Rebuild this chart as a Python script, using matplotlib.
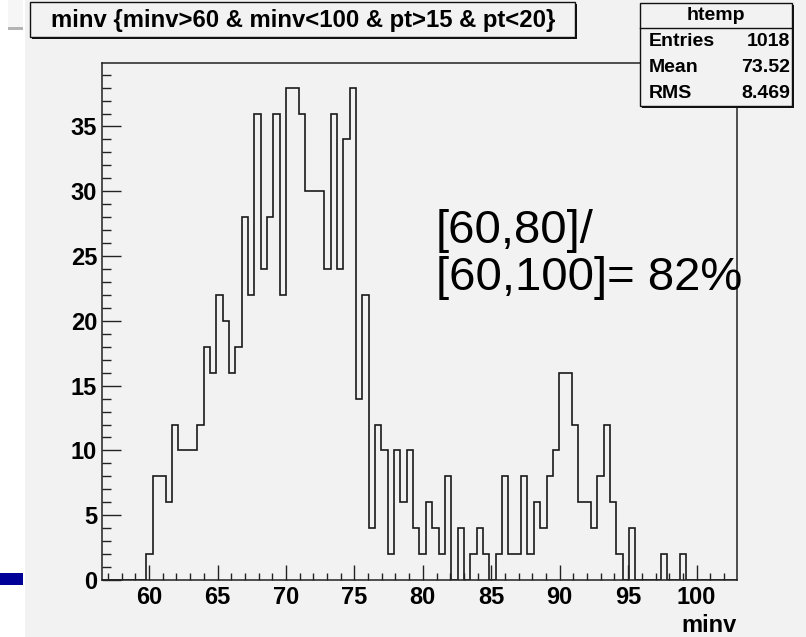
import matplotlib.pyplot as plt
from matplotlib.patches import Rectangle
import numpy as np

# canvas size in pixels
W, H = 806, 637

# htemp: 100 bins of minv, counts
x_min, x_max = 56.56, 102.95
counts = [0, 0, 0, 0, 0, 0, 0, 2, 8, 8,
          6, 12, 10, 10, 10, 12, 18, 16, 22, 20,
          16, 18, 28, 22, 36, 24, 28, 36, 22, 38,
          38, 36, 30, 30, 30, 24, 36, 24, 34, 38,
          14, 22, 4, 12, 10, 2, 10, 6, 10, 4,
          2, 6, 4, 2, 8, 0, 4, 0, 2, 4,
          2, 0, 2, 8, 2, 2, 8, 2, 6, 4,
          8, 10, 16, 16, 12, 6, 6, 4, 8, 12,
          6, 2, 0, 4, 0, 0, 0, 0, 2, 0,
          0, 2, 0, 0, 0, 0, 0, 0, 0, 0]

x_ticks = [60, 65, 70, 75, 80, 85, 90, 95, 100]
y_ticks = [0, 5, 10, 15, 20, 25, 30, 35]

title = 'minv {minv>60 & minv<100 & pt>15 & pt<20}'
stat_names = ['Entries', 'Mean', 'RMS']
stat_values = ['1018', '73.52', '8.469']
note_lines = ['[60,80]/', '[60,100]= 82%']

GRAY = '#f2f2f2'
plt.rcParams['font.family'] = ['Liberation Sans Narrow', 'Liberation Sans', 'DejaVu Sans']


def fx(px):
    return px / W


def fy(py):
    return 1 - py / H


def box(x0, y0, x1, y1, z, **kw):
    # rectangle given in pixel corners (top-left origin)
    r = Rectangle((fx(x0), fy(y1)), fx(x1 - x0), (y1 - y0) / H,
                  transform=fig.transFigure, zorder=z, **kw)
    fig.patches.append(r)


fig = plt.figure(figsize=(W / 100, H / 100), dpi=100, facecolor='white')

# ROOT canvas background and slide decorations on the left
box(25, 0, W, H, -2, facecolor=GRAY, edgecolor='none')
box(8, 0, 23, 27, -2, facecolor='#f6f6f6', edgecolor='none')
box(8, 27, 23, 30, -2, facecolor='#b4b4b4', edgecolor='none')
box(0, 573, 23, 585, -2, facecolor='#000099', edgecolor='none')

# frame
ax = fig.add_axes([fx(102), fy(580), fx(635), 517 / H])
ax.set_facecolor(GRAY)
edges = np.linspace(x_min, x_max, len(counts) + 1)
ax.stairs(counts, edges, color='#1a1a1a', lw=1.2)
ax.set_xlim(x_min, x_max)
ax.set_ylim(0, 39.9)

ax.set_xticks(x_ticks)
ax.set_xticks(np.arange(57, 103), minor=True)
ax.set_yticks(y_ticks)
ax.set_yticks(np.arange(0, 40), minor=True)
ax.tick_params(axis='both', which='both', direction='in', color='#222222', width=1.0,
               top=False, right=False, labelsize=17)
ax.tick_params(axis='x', which='major', length=10.8, pad=4)
ax.tick_params(axis='x', which='minor', length=5.4)
ax.tick_params(axis='y', which='major', length=13.7, pad=3.5)
ax.tick_params(axis='y', which='minor', length=6.8)
for lab in ax.get_xticklabels() + ax.get_yticklabels():
    lab.set_fontweight('bold')
for sp in ax.spines.values():
    sp.set_linewidth(1.1)
    sp.set_color('#222222')

fig.text(fx(737), fy(625), 'minv', ha='right', va='center', fontsize=17, fontweight='bold')

# title box with shadow
box(32, 4, 577, 39, 3, facecolor='#111111', edgecolor='none')
box(30, 2, 575, 37, 4, facecolor=GRAY, edgecolor='#111111', lw=1.0)
fig.text(fx(303), fy(20), title, ha='center', va='center', fontsize=17.2,
         fontweight='bold', zorder=5)

# stats box with shadow
box(642, 5, 794, 108, 3, facecolor='#111111', edgecolor='none')
box(640, 3, 792, 106, 4, facecolor=GRAY, edgecolor='#111111', lw=1.0)
fig.lines.append(plt.Line2D([fx(640), fx(792)], [fy(28), fy(28)], transform=fig.transFigure,
                            color='#111111', lw=1.0, zorder=5))
fig.text(fx(716), fy(15), 'htemp', ha='center', va='center', fontsize=14,
         fontweight='bold', zorder=5)
for i, (name, val) in enumerate(zip(stat_names, stat_values)):
    y = fy(41 + i * 26)
    fig.text(fx(649), y, name, ha='left', va='center', fontsize=14, fontweight='bold', zorder=5)
    fig.text(fx(790), y, val, ha='right', va='center', fontsize=14, fontweight='bold', zorder=5)

# ratio note
for i, line in enumerate(note_lines):
    fig.text(fx(436), fy(243 + i * 47), line, ha='left', va='baseline', fontsize=34,
             family=['Liberation Sans', 'DejaVu Sans'], zorder=6)

fig.savefig('out.png', dpi=100, facecolor='white')
